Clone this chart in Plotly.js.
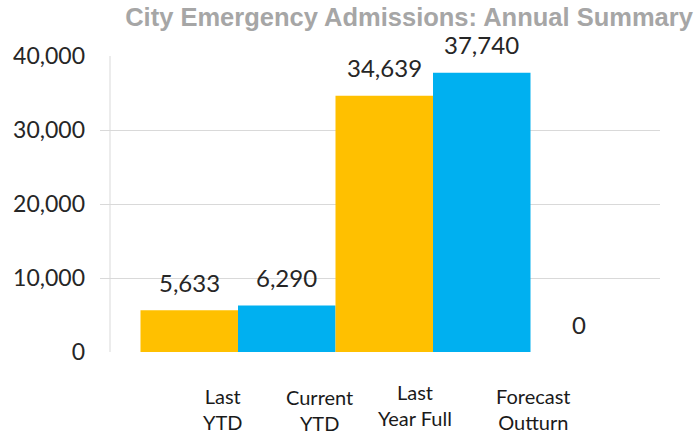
<!DOCTYPE html>
<html>
<head>
<meta charset="utf-8">
<script src="https://cdn.plot.ly/plotly-3.0.1.min.js"></script>
<style>html,body{margin:0;padding:0;background:#fff;}#chart{width:695px;height:435px;}</style>
</head>
<body>
<div id="chart"></div>
<script>
// Data
const barValues = [5633, 6290, 34639, 37740, 0];
const barPositions = [0, 1, 2, 3, 4];
const categoryLabels = ['Last<br>YTD', 'Current<br>YTD', 'Last<br>Year Full', 'Forecast<br>Outturn'];
const yTickValues = [0, 10000, 20000, 30000, 40000];
const yTickLabels = ['0', '10,000', '20,000', '30,000', '40,000'];
const titleText = 'City Emergency Admissions: Annual Summary';

// Style
const barColors = ['#FFC000', '#00B0F0', '#FFC000', '#00B0F0', '#00B0F0'];
const labelX = [0.346, 1.331, 2.315, 3.526];
const labelShift = [-57, -57.5, -53, -57];
const fontFam = 'Lato, "DejaVu Sans", sans-serif';

const fmt = v => v.toLocaleString('en-US');

const annotations = [];
barValues.forEach((v, i) => {
  annotations.push({
    x: barPositions[i], y: v, xref: 'x', yref: 'y',
    text: fmt(v), showarrow: false, borderpad: 0,
    xanchor: 'center', yanchor: 'middle', yshift: 28,
    font: {family: fontFam, size: 24, color: '#262626'}
  });
});
categoryLabels.forEach((t, i) => {
  annotations.push({
    x: labelX[i], y: 0, xref: 'x', yref: 'paper',
    text: t, showarrow: false, borderpad: 0,
    xanchor: 'center', yanchor: 'middle', yshift: labelShift[i],
    font: {family: fontFam, size: 20, color: '#1a1a1a'}
  });
});

const trace = {
  type: 'bar',
  x: barPositions,
  y: barValues,
  width: 1,
  marker: {color: barColors, line: {width: 0}},
  hoverinfo: 'skip'
};

const layout = {
  width: 695, height: 435,
  margin: {l: 100, r: 35, t: 56, b: 82.5, pad: 0},
  paper_bgcolor: '#ffffff', plot_bgcolor: '#ffffff',
  showlegend: false,
  title: {
    text: titleText,
    font: {family: '"Liberation Sans", Arial, sans-serif', size: 25.5, color: '#A6A6A6', weight: 'bold'},
    xref: 'container', yref: 'container',
    x: 0.997, xanchor: 'right', y: 0.96, yanchor: 'middle'
  },
  xaxis: {
    range: [-0.9154, 4.8282],
    showgrid: false, zeroline: false, showline: false,
    showticklabels: false, ticks: '', fixedrange: true
  },
  yaxis: {
    range: [0, 40000],
    tickvals: yTickValues, ticktext: yTickLabels,
    showgrid: true, gridcolor: '#D9D9D9', gridwidth: 1,
    zeroline: false, showline: false, ticks: '',
    ticklabelstandoff: 14,
    tickfont: {family: fontFam, size: 23, color: '#262626'},
    fixedrange: true
  },
  shapes: [{
    type: 'line', xref: 'x', yref: 'y',
    x0: -0.8128, x1: -0.8128, y0: 0, y1: 40000,
    line: {color: '#D9D9D9', width: 1}, layer: 'below'
  }],
  annotations: annotations
};

Plotly.newPlot('chart', [trace], layout, {displayModeBar: false, staticPlot: true});
</script>
</body>
</html>
